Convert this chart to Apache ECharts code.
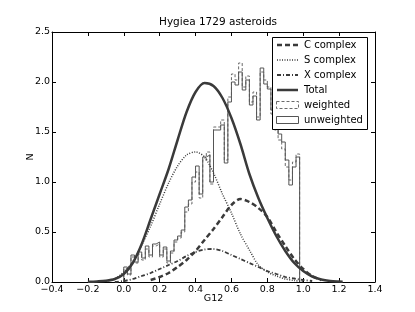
<!DOCTYPE html>
<html><head><meta charset="utf-8">
<script src="https://cdn.jsdelivr.net/npm/echarts@6/dist/echarts.min.js"></script>
<style>html,body{margin:0;padding:0;background:#fff}#c{width:415px;height:312px}</style>
</head><body><div id="c"></div>
<script>
const xTicks = [-0.4,-0.2,0.0,0.2,0.4,0.6,0.8,1.0,1.2,1.4];
const yTicks = [0.0,0.5,1.0,1.5,2.0,2.5];
const curveG = [-0.2,-0.15,-0.1,-0.05,0.0,0.05,0.1,0.15,0.2,0.25,0.3,0.35,0.4,0.45,0.5,0.55,0.6,0.65,0.7,0.75,0.8,0.85,0.9,0.95,1.0,1.05,1.1,1.15,1.2,1.22];
const cComplex = [null,null,null,null,null,null,null,0.02,0.05,0.09,0.15,0.22,0.31,0.42,0.53,0.65,0.77,0.83,0.80,0.74,0.65,0.50,0.36,0.23,0.13,0.06,0.02,null,null,null];
const sComplex = [null,null,0.01,0.03,0.10,0.20,0.37,0.56,0.78,0.99,1.16,1.27,1.30,1.25,1.09,0.88,0.69,0.48,0.32,0.17,0.10,0.06,0.03,0.015,0.005,null,null,null,null,null];
const xComplex = [null,null,null,0.0,0.01,0.03,0.06,0.09,0.13,0.17,0.21,0.26,0.30,0.325,0.33,0.31,0.27,0.23,0.19,0.15,0.11,0.08,0.05,0.035,0.02,0.01,null,null,null,null];
const total = [0.003,0.006,0.012,0.03,0.08,0.19,0.38,0.63,0.88,1.13,1.42,1.70,1.90,1.99,1.96,1.84,1.64,1.38,1.08,0.84,0.64,0.46,0.31,0.19,0.11,0.055,0.025,0.01,0.004,0.003];
const binEdges = [0.00,0.02,0.04,0.06,0.08,0.10,0.12,0.14,0.16,0.18,0.20,0.22,0.24,0.26,0.28,0.30,0.32,0.34,0.36,0.38,0.40,0.42,0.44,0.46,0.48,0.50,0.52,0.54,0.56,0.58,0.60,0.62,0.64,0.66,0.68,0.70,0.72,0.74,0.76,0.78,0.80,0.82,0.84,0.86,0.88,0.90,0.92,0.94,0.96,0.98];
const unweighted = [0.15,0.08,0.27,0.20,0.30,0.24,0.36,0.27,0.38,0.40,0.27,0.35,0.21,0.31,0.42,0.46,0.52,0.75,0.82,1.05,1.16,0.88,1.25,1.27,1.00,1.52,1.52,1.57,1.19,1.80,2.00,1.97,2.10,1.92,2.02,1.77,1.86,1.62,2.14,1.98,1.93,1.72,1.58,1.48,1.40,1.22,0.97,1.15,1.25];
const weighted = [0.13,0.07,0.25,0.19,0.28,0.22,0.33,0.25,0.36,0.38,0.25,0.33,0.19,0.29,0.40,0.44,0.50,0.70,0.78,1.00,1.10,0.84,1.22,1.30,0.98,1.55,1.55,1.62,1.22,1.85,2.08,2.02,2.19,1.95,2.06,1.80,1.90,1.65,2.10,2.02,1.95,1.68,1.52,1.42,1.33,1.15,1.02,1.20,1.28];

function curve(vals){ const out=[]; curveG.forEach((g,i)=>{ if(vals[i]!==null) out.push([g,vals[i]]); }); return out; }
function outline(h){ const pts=[[binEdges[0],0]]; for(let i=0;i<h.length;i++){ pts.push([binEdges[i],h[i]]); pts.push([binEdges[i+1],h[i]]); } pts.push([binEdges[h.length],0]); return pts; }

const FONT = 'DejaVu Sans';
const fmt = v => (v<0?'\u2212':'') + Math.abs(v).toFixed(1);
const axisCommon = {
  type:'value', splitLine:{show:false},
  axisLine:{show:true,onZero:false,lineStyle:{color:'#000',width:1}},
  axisTick:{show:true,inside:true,length:4,lineStyle:{color:'#000'}}
};
const chart = echarts.init(document.getElementById('c'), null, {renderer:'canvas'});
const lineBase = {type:'line', showSymbol:false, symbol:'none', silent:true, animation:false, z:3};
chart.setOption({
  animation:false,
  backgroundColor:'#fff',
  textStyle:{fontFamily:FONT},
  title:{text:'Hygiea 1729 asteroids', left:213, top:12, textAlign:'center',
    textStyle:{fontFamily:FONT,fontSize:10.5,fontWeight:'normal',color:'#000'}},
  grid:{left:52,right:40,top:32,bottom:30,containLabel:false},
  xAxis:[
    Object.assign({}, axisCommon, {min:xTicks[0],max:xTicks[xTicks.length-1],interval:0.2,position:'bottom',
      name:'G12',nameLocation:'middle',nameGap:12,nameMoveOverlap:false,nameTextStyle:{fontFamily:FONT,fontSize:9.5,color:'#000'},
      axisLabel:{margin:3,fontFamily:FONT,fontSize:9.5,color:'#000',formatter:fmt,showMinLabel:true,showMaxLabel:true}}),
    Object.assign({}, axisCommon, {min:xTicks[0],max:xTicks[xTicks.length-1],interval:0.2,position:'top',axisLabel:{show:false}})
  ],
  yAxis:[
    Object.assign({}, axisCommon, {min:yTicks[0],max:yTicks[yTicks.length-1],interval:0.5,position:'left',
      name:'N',nameLocation:'middle',nameGap:16,nameMoveOverlap:false,nameRotate:90,nameTextStyle:{fontFamily:FONT,fontSize:9.5,color:'#000'},
      axisLabel:{margin:2,fontFamily:FONT,fontSize:9.5,color:'#000',formatter:v=>v.toFixed(1)}}),
    Object.assign({}, axisCommon, {min:yTicks[0],max:yTicks[yTicks.length-1],interval:0.5,position:'right',axisLabel:{show:false}})
  ],
  series:[
    Object.assign({}, lineBase, {name:'weighted', data:outline(weighted), lineStyle:{color:'#6a6a6a',width:1,type:[3,2]}, z:2}),
    Object.assign({}, lineBase, {name:'unweighted', data:outline(unweighted), lineStyle:{color:'#555',width:1}, z:2}),
    Object.assign({}, lineBase, {name:'C complex', data:curve(cComplex), smooth:0.3, lineStyle:{color:'#3a3a3a',width:2.5,type:[5,3]}}),
    Object.assign({}, lineBase, {name:'S complex', data:curve(sComplex), smooth:0.3, lineStyle:{color:'#3a3a3a',width:1.5,type:[1,1.5]}}),
    Object.assign({}, lineBase, {name:'X complex', data:curve(xComplex), smooth:0.3, lineStyle:{color:'#3a3a3a',width:1.8,type:[4,2,1,2]}}),
    Object.assign({}, lineBase, {name:'Total', data:curve(total), smooth:0.3, lineStyle:{color:'#3a3a3a',width:2.5}})
  ],
  graphic:[
    {type:'rect', left:272, top:37, shape:{width:95,height:92}, style:{fill:'#fff',stroke:'#000',lineWidth:1}, z:100},
    {type:'line', shape:{x1:277,y1:45,x2:298,y2:45}, style:{stroke:'#3a3a3a',lineWidth:2.5,lineDash:[5,3]}, z:101},
    {type:'line', shape:{x1:277,y1:60,x2:298,y2:60}, style:{stroke:'#3a3a3a',lineWidth:1.5,lineDash:[1,1.5]}, z:101},
    {type:'line', shape:{x1:277,y1:75,x2:298,y2:75}, style:{stroke:'#3a3a3a',lineWidth:1.8,lineDash:[4,2,1,2]}, z:101},
    {type:'line', shape:{x1:277,y1:90,x2:298,y2:90}, style:{stroke:'#3a3a3a',lineWidth:2.5}, z:101},
    {type:'rect', shape:{x:276.5,y:101.5,width:22,height:7}, style:{fill:'#fff',stroke:'#6a6a6a',lineWidth:1,lineDash:[3,2]}, z:101},
    {type:'rect', shape:{x:276.5,y:116.5,width:22,height:7}, style:{fill:'#fff',stroke:'#555',lineWidth:1}, z:101},
    {type:'text', x:304, y:45, style:{text:'C complex',fill:'#000',font:'10px "DejaVu Sans"',textVerticalAlign:'middle'}, z:101},
    {type:'text', x:304, y:60, style:{text:'S complex',fill:'#000',font:'10px "DejaVu Sans"',textVerticalAlign:'middle'}, z:101},
    {type:'text', x:304, y:75, style:{text:'X complex',fill:'#000',font:'10px "DejaVu Sans"',textVerticalAlign:'middle'}, z:101},
    {type:'text', x:304, y:90, style:{text:'Total',fill:'#000',font:'10px "DejaVu Sans"',textVerticalAlign:'middle'}, z:101},
    {type:'text', x:304, y:105, style:{text:'weighted',fill:'#000',font:'10px "DejaVu Sans"',textVerticalAlign:'middle'}, z:101},
    {type:'text', x:304, y:120, style:{text:'unweighted',fill:'#000',font:'10px "DejaVu Sans"',textVerticalAlign:'middle'}, z:101}
  ]
});
</script></body></html>
